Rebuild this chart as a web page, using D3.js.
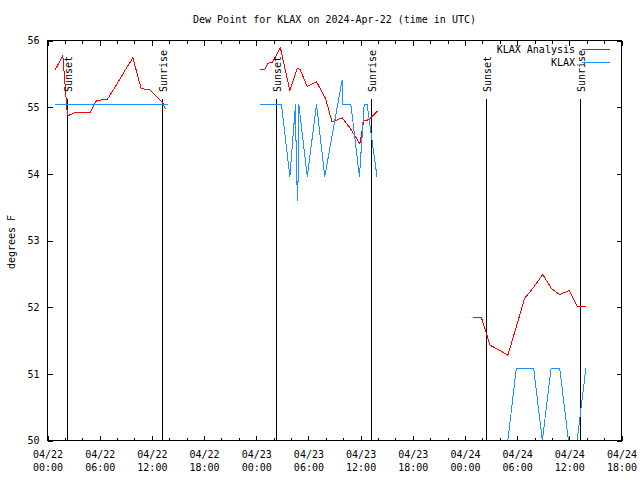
<!DOCTYPE html>
<html><head><meta charset="utf-8">
<script src="https://cdn.jsdelivr.net/npm/d3@7"></script>
<style>
body{margin:0;background:#fff}
svg{display:block;background:#fff}
text{font-family:"DejaVu Sans Mono","Liberation Mono",monospace;font-size:10px;fill:#000}
</style></head><body>
<svg id="chart" width="640" height="480"></svg>
<script>
const title = "Dew Point for KLAX on 2024-Apr-22 (time in UTC)";
const yLabel = "degrees F";
const seriesNames = ["KLAX Analysis", "KLAX"];
const seriesColors = ["#ff0000", "#1e90ff"];
const xTickTimes = ["2024-04-22T00:00Z","2024-04-22T06:00Z","2024-04-22T12:00Z","2024-04-22T18:00Z",
  "2024-04-23T00:00Z","2024-04-23T06:00Z","2024-04-23T12:00Z","2024-04-23T18:00Z",
  "2024-04-24T00:00Z","2024-04-24T06:00Z","2024-04-24T12:00Z","2024-04-24T18:00Z"];
const yTicks = [50, 51, 52, 53, 54, 55, 56];

const sunTimes = ["2024-04-22T02:18Z","2024-04-22T13:16Z","2024-04-23T02:22Z","2024-04-23T13:17Z","2024-04-24T02:31Z","2024-04-24T13:19Z"];
const sunLabels = ["Sunset","Sunrise","Sunset","Sunrise","Sunset","Sunrise"];

const analysisTimes = [
 "2024-04-22T00:50Z","2024-04-22T01:46Z","2024-04-22T02:18Z","2024-04-22T03:13Z","2024-04-22T04:55Z",
 "2024-04-22T05:38Z","2024-04-22T06:54Z","2024-04-22T07:54Z","2024-04-22T08:54Z","2024-04-22T09:49Z",
 "2024-04-22T10:46Z","2024-04-22T11:44Z","2024-04-22T12:48Z","2024-04-22T13:16Z","2024-04-22T13:34Z",
 "2024-04-22T18:00Z",
 "2024-04-23T00:25Z","2024-04-23T00:59Z","2024-04-23T01:20Z","2024-04-23T01:50Z","2024-04-23T02:47Z",
 "2024-04-23T03:52Z","2024-04-23T04:43Z","2024-04-23T05:01Z","2024-04-23T05:52Z","2024-04-23T06:56Z",
 "2024-04-23T07:58Z","2024-04-23T08:43Z","2024-04-23T09:53Z","2024-04-23T10:50Z","2024-04-23T11:55Z",
 "2024-04-23T12:22Z","2024-04-23T12:57Z","2024-04-23T13:55Z",
 "2024-04-23T18:00Z",
 "2024-04-24T00:54Z","2024-04-24T01:29Z","2024-04-24T01:54Z","2024-04-24T02:53Z","2024-04-24T03:53Z",
 "2024-04-24T04:56Z","2024-04-24T05:55Z","2024-04-24T06:51Z","2024-04-24T07:54Z","2024-04-24T08:57Z",
 "2024-04-24T09:57Z","2024-04-24T10:52Z","2024-04-24T12:01Z","2024-04-24T12:54Z","2024-04-24T13:56Z"];
const analysisValues = [
 55.55,55.77,54.87,54.92,54.92,55.10,55.12,55.33,55.55,55.74,55.28,55.26,55.13,55.06,54.97,
 null,
 55.57,55.57,55.66,55.67,55.89,55.25,55.58,55.57,55.31,55.38,55.13,54.78,54.84,54.68,54.45,54.80,54.81,54.94,
 null,
 51.84,51.85,51.84,51.43,51.36,51.28,51.71,52.13,52.30,52.49,52.28,52.19,52.25,52.01,52.01];

const obsTimes = [
 "2024-04-22T00:50Z","2024-04-22T01:53Z","2024-04-22T02:53Z","2024-04-22T03:53Z","2024-04-22T04:53Z",
 "2024-04-22T05:53Z","2024-04-22T06:53Z","2024-04-22T07:53Z","2024-04-22T08:53Z","2024-04-22T09:53Z",
 "2024-04-22T10:53Z","2024-04-22T11:53Z","2024-04-22T12:53Z","2024-04-22T13:53Z",
 "2024-04-22T18:00Z",
 "2024-04-23T00:25Z","2024-04-23T02:54Z","2024-04-23T03:52Z","2024-04-23T04:31Z","2024-04-23T04:38Z",
 "2024-04-23T04:47Z","2024-04-23T04:54Z","2024-04-23T05:52Z","2024-04-23T06:56Z","2024-04-23T07:53Z",
 "2024-04-23T09:52Z","2024-04-23T09:53Z","2024-04-23T10:53Z","2024-04-23T11:52Z","2024-04-23T12:25Z",
 "2024-04-23T12:45Z","2024-04-23T13:53Z",
 "2024-04-23T18:00Z",
 "2024-04-24T00:54Z","2024-04-24T01:54Z","2024-04-24T02:53Z","2024-04-24T03:53Z","2024-04-24T04:56Z",
 "2024-04-24T05:54Z","2024-04-24T06:54Z","2024-04-24T07:54Z","2024-04-24T08:54Z","2024-04-24T09:54Z",
 "2024-04-24T10:54Z","2024-04-24T11:54Z","2024-04-24T12:54Z","2024-04-24T13:54Z"];
const obsValues = [
 55.04,55.04,55.04,55.04,55.04,55.04,55.04,55.04,55.04,55.04,55.04,55.04,55.04,55.04,
 null,
 55.04,55.04,53.96,55.04,53.96,53.6,55.04,53.96,55.04,53.96,55.4,55.04,55.04,53.96,55.04,55.04,53.96,
 null,
 50.0,50.0,50.0,50.0,50.0,51.08,51.08,51.08,50.0,51.08,51.08,50.0,50.0,51.08];

const parse = d3.utcParse("%Y-%m-%dT%H:%MZ");
const M = {l:47, r:621, t:40, b:440};
const svg = d3.select("#chart");

const x = d3.scaleUtc()
  .domain([parse(xTickTimes[0]), parse(xTickTimes[xTickTimes.length-1])])
  .range([M.l, M.r]);
const y = d3.scaleLinear().domain([yTicks[0], yTicks[yTicks.length-1]]).range([M.b, M.t]);

svg.append("defs").append("clipPath").attr("id","clip")
  .append("rect").attr("x",M.l).attr("y",M.t).attr("width",M.r-M.l+1).attr("height",M.b-M.t+1);

const g = svg.append("g").attr("transform","translate(0.5,0.5)");

// sunrise / sunset markers
const sunLineTop = 55.12, sunLabelBottom = 55.22;
sunTimes.forEach((t,i)=>{
  const sx = Math.round(x(parse(t)));
  g.append("line").attr("x1",sx).attr("x2",sx).attr("y1",y(yTicks[0])).attr("y2",y(sunLineTop))
    .attr("stroke","#000").attr("stroke-width",1).attr("shape-rendering","crispEdges");
  svg.append("text").attr("transform",`translate(${sx+1.5},${y(sunLabelBottom)}) rotate(-90)`)
    .attr("text-anchor","start").attr("dominant-baseline","central").text(sunLabels[i]);
});

// data lines
const line = d3.line().defined(d=>d.v!=null).x(d=>x(d.t)).y(d=>y(d.v));
const series = [
  analysisTimes.map((t,i)=>({t:parse(t), v:analysisValues[i]})),
  obsTimes.map((t,i)=>({t:parse(t), v:obsValues[i]}))
];
const dg = g.append("g").attr("clip-path","url(#clip)");
series.forEach((s,i)=>{
  dg.append("path").datum(s).attr("d",line).attr("fill","none")
    .attr("stroke",seriesColors[i]).attr("stroke-width",1).attr("shape-rendering","crispEdges");
});

// axes
const minor = x.ticks(d3.utcHour.every(2));
const major = xTickTimes.map(parse);
function clean(s){ s.select(".domain").remove(); s.selectAll("line").attr("shape-rendering","crispEdges"); }
g.append("g").attr("transform",`translate(0,${M.b})`)
  .call(d3.axisBottom(x).tickValues(minor).tickSize(-3).tickFormat("")).call(clean);
g.append("g").attr("transform",`translate(0,${M.t})`)
  .call(d3.axisTop(x).tickValues(minor).tickSize(-3).tickFormat("")).call(clean);
g.append("g").attr("transform",`translate(0,${M.t})`)
  .call(d3.axisTop(x).tickValues(major).tickSize(-5).tickFormat("")).call(clean);
const gx = g.append("g").attr("transform",`translate(0,${M.b})`)
  .call(d3.axisBottom(x).tickValues(major).tickSize(-5).tickFormat("")).call(clean);
const fd = d3.utcFormat("%m/%d"), fh = d3.utcFormat("%H:%M");
gx.selectAll(".tick").append("text")
  .attr("text-anchor","middle").attr("fill","#000").attr("font-size","10px")
  .attr("font-family","DejaVu Sans Mono, monospace")
  .each(function(d){
    const t = d3.select(this);
    t.append("tspan").attr("x",0).attr("y",17).text(fd(d));
    t.append("tspan").attr("x",0).attr("y",30).text(fh(d));
  });
const gy = g.append("g").attr("transform",`translate(${M.l},0)`)
  .call(d3.axisLeft(y).tickValues(yTicks).tickSize(-5).tickPadding(8).tickFormat(d3.format("d"))).call(clean);
gy.selectAll("text").attr("font-size","10px").attr("font-family","DejaVu Sans Mono, monospace").attr("fill","#000");
g.append("g").attr("transform",`translate(${M.r},0)`)
  .call(d3.axisRight(y).tickValues(yTicks).tickSize(-5).tickFormat("")).call(clean);

// frame
g.append("rect").attr("x",M.l).attr("y",M.t).attr("width",M.r-M.l).attr("height",M.b-M.t)
  .attr("fill","none").attr("stroke","#000").attr("shape-rendering","crispEdges");

// title and y label
svg.append("text").attr("x",(M.l+M.r)/2+0.5).attr("y",19.5).attr("text-anchor","middle")
  .attr("dominant-baseline","central").text(title);
svg.append("text").attr("transform",`translate(11,${(M.t+M.b)/2+2}) rotate(-90)`)
  .attr("text-anchor","middle").attr("dominant-baseline","central").text(yLabel);

// legend
const legY = [49, 62];
seriesNames.forEach((n,i)=>{
  svg.append("text").attr("x",575).attr("y",legY[i]).attr("text-anchor","end")
    .attr("dominant-baseline","central").text(n);
  g.append("line").attr("x1",581).attr("x2",609).attr("y1",legY[i]).attr("y2",legY[i])
    .attr("stroke",seriesColors[i]).attr("shape-rendering","crispEdges");
});
</script>
</body></html>
